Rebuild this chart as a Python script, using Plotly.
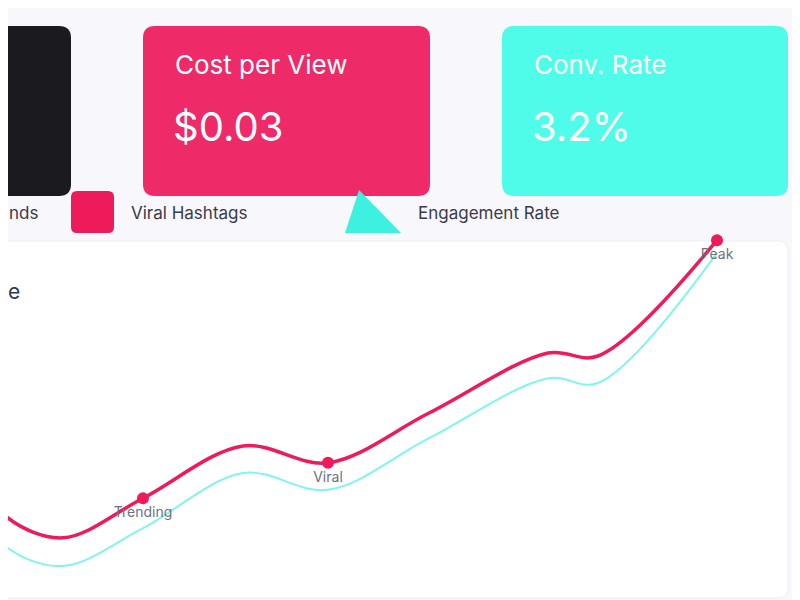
import plotly.graph_objects as go

# data
t = [-20, 0, 55, 135, 235, 320, 421, 540, 590, 709]
hashtags = [20, 15, 11.7, 18.3, 27, 24.2, 32.5, 42.5, 42, 61.3]
engagement = [15, 10, 7, 13.3, 22.5, 19.7, 28.3, 38.3, 37.5, 59.2]
marker_idx = [3, 5, 9]
marker_labels = ["Trending", "Viral", "Peak"]
cards = [("", ""), ("Cost per View", "$0.03"), ("Conv. Rate", "3.2%")]

W, H = 800, 600
def px(x): return x / W
def py(y): return 1 - y / H
def rrect(x0, y0, x1, y1, r):
    p = (f"M {px(x0+r)},{py(y0)} L {px(x1-r)},{py(y0)} Q {px(x1)},{py(y0)} {px(x1)},{py(y0+r)} "
         f"L {px(x1)},{py(y1-r)} Q {px(x1)},{py(y1)} {px(x1-r)},{py(y1)} L {px(x0+r)},{py(y1)} "
         f"Q {px(x0)},{py(y1)} {px(x0)},{py(y1-r)} L {px(x0)},{py(y0+r)} Q {px(x0)},{py(y0)} {px(x0+r)},{py(y0)} Z")
    return p

fig = go.Figure()
fig.add_trace(go.Scatter(x=t, y=engagement, mode="lines", line=dict(color="#7ff5ee", width=2, shape="spline", smoothing=1.0), hoverinfo="skip"))
fig.add_trace(go.Scatter(x=t, y=hashtags, mode="lines", line=dict(color="#ee1a5a", width=3.5, shape="spline", smoothing=1.0), hoverinfo="skip"))
fig.add_trace(go.Scatter(x=[t[i] for i in marker_idx], y=[hashtags[i] for i in marker_idx], mode="markers+text",
                         marker=dict(color="#ee1a5a", size=12), text=marker_labels, textposition="bottom center",
                         textfont=dict(color="#6b7280", size=14, family="Inter"), hoverinfo="skip"))

shapes = [dict(type="path", path=rrect(-20, 233, 780, 590, 10), xref="paper", yref="paper",
               fillcolor="white", line=dict(color="#ececf2", width=1), layer="below")]
colors = ["#1a1a1f", "#ef2a68", "#4ffbe9"]
xs = [(-20, 63), (135, 422), (494, 780)]
anns = []
for (x0, x1), c, (title, val) in zip(xs, colors, cards):
    shapes.append(dict(type="path", path=rrect(x0, 18, x1, 188, 12), xref="paper", yref="paper", fillcolor=c, line=dict(width=0)))
    if title:
        anns.append(dict(x=px(x0 + 30), y=py(57), text=title, font=dict(color="white", size=26, family="Inter"), xanchor="left", yanchor="middle"))
        anns.append(dict(x=px(x0 + 28), y=py(118), text=val, font=dict(color="white", size=40, family="Inter"), xanchor="left", yanchor="middle"))
shapes.append(dict(type="path", path=rrect(63, 183, 106, 225, 6), xref="paper", yref="paper", fillcolor="#ee1a5a", line=dict(width=0)))
shapes.append(dict(type="path", path=f"M {px(337)},{py(225)} L {px(393)},{py(225)} L {px(351)},{py(182)} Z", xref="paper", yref="paper", fillcolor="#3ef0e0", line=dict(width=0)))
for x, txt in [(-1, "nds"), (121, "Viral Hashtags"), (408, "Engagement Rate")]:
    anns.append(dict(x=px(x), y=py(205), text=txt, font=dict(color="#3a3a4a", size=17, family="Inter"), xanchor="left", yanchor="middle"))
anns.append(dict(x=px(-2), y=py(283), text="e", font=dict(color="#2d3a55", size=21, family="Inter"), xanchor="left", yanchor="middle"))
for a in anns:
    a.update(xref="paper", yref="paper", showarrow=False)

fig.update_layout(width=W, height=H, margin=dict(l=0, r=0, t=0, b=0), paper_bgcolor="#f8f7fc", plot_bgcolor="rgba(0,0,0,0)",
                  showlegend=False, shapes=shapes, annotations=anns,
                  xaxis=dict(range=[0, 800], visible=False, fixedrange=True),
                  yaxis=dict(range=[0, 100], visible=False, fixedrange=True))
fig.write_html("out.html", config={"displayModeBar": False})
